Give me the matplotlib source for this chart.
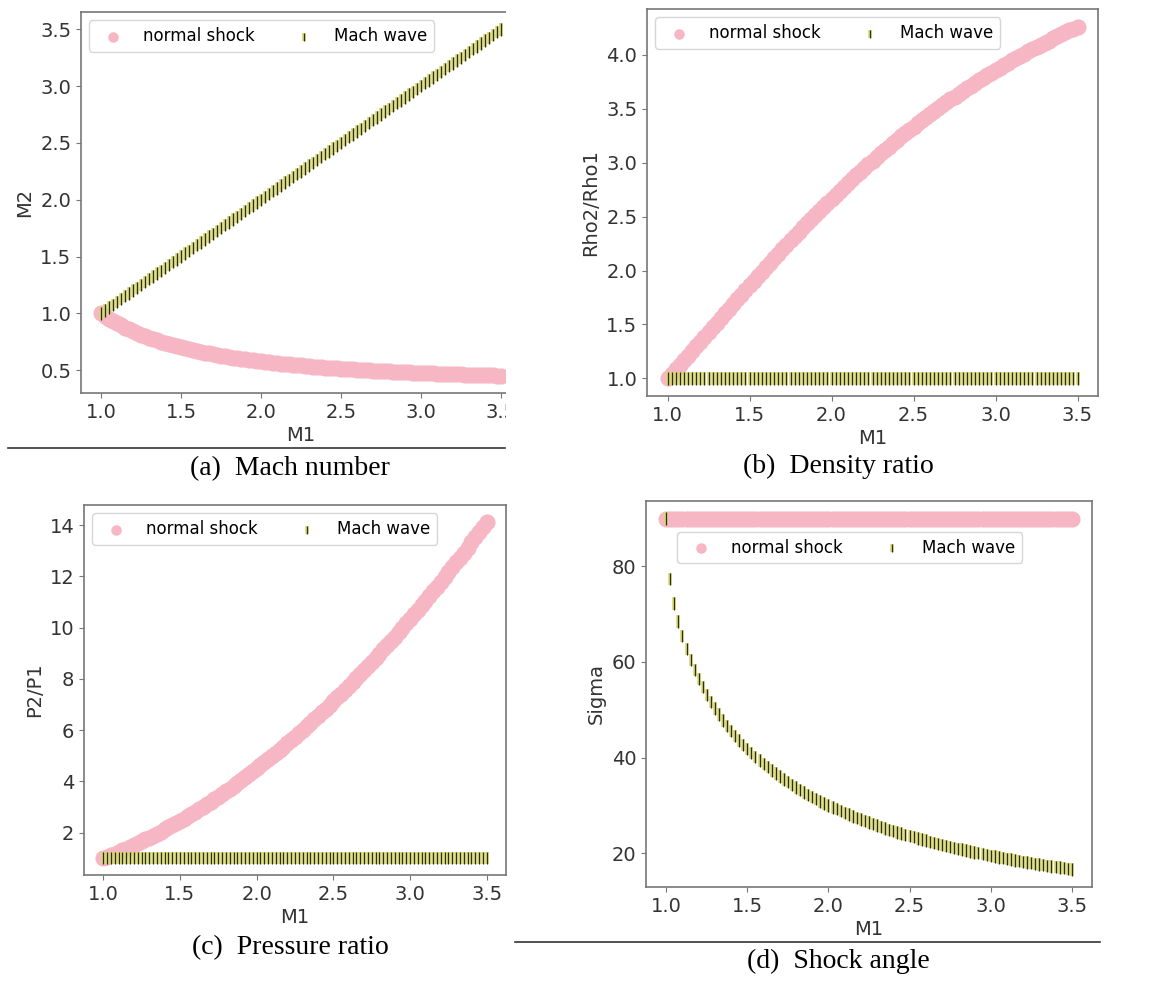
"""Normal shock vs Mach wave relations for a calorically perfect gas (gamma = 1.4)."""

import matplotlib.pyplot as plt
import matplotlib.patheffects as pe
from matplotlib.lines import Line2D
from matplotlib.patches import Rectangle

# upstream Mach number grid
m1 = [
    1.000, 1.025, 1.050, 1.075, 1.100, 1.125, 1.150, 1.175, 1.200, 1.225,
    1.250, 1.275, 1.300, 1.325, 1.350, 1.375, 1.400, 1.425, 1.450, 1.475,
    1.500, 1.525, 1.550, 1.575, 1.600, 1.625, 1.650, 1.675, 1.700, 1.725,
    1.750, 1.775, 1.800, 1.825, 1.850, 1.875, 1.900, 1.925, 1.950, 1.975,
    2.000, 2.025, 2.050, 2.075, 2.100, 2.125, 2.150, 2.175, 2.200, 2.225,
    2.250, 2.275, 2.300, 2.325, 2.350, 2.375, 2.400, 2.425, 2.450, 2.475,
    2.500, 2.525, 2.550, 2.575, 2.600, 2.625, 2.650, 2.675, 2.700, 2.725,
    2.750, 2.775, 2.800, 2.825, 2.850, 2.875, 2.900, 2.925, 2.950, 2.975,
    3.000, 3.025, 3.050, 3.075, 3.100, 3.125, 3.150, 3.175, 3.200, 3.225,
    3.250, 3.275, 3.300, 3.325, 3.350, 3.375, 3.400, 3.425, 3.450, 3.475,
    3.500,
]

# normal shock: downstream Mach number
shock_m2 = [
    1.000, 0.976, 0.953, 0.932, 0.912, 0.893, 0.875, 0.858, 0.842, 0.827,
    0.813, 0.799, 0.786, 0.774, 0.762, 0.750, 0.740, 0.729, 0.720, 0.710,
    0.701, 0.692, 0.684, 0.676, 0.668, 0.661, 0.654, 0.647, 0.641, 0.634,
    0.628, 0.622, 0.617, 0.611, 0.606, 0.601, 0.596, 0.591, 0.586, 0.582,
    0.577, 0.573, 0.569, 0.565, 0.561, 0.558, 0.554, 0.550, 0.547, 0.544,
    0.541, 0.537, 0.534, 0.531, 0.529, 0.526, 0.523, 0.520, 0.518, 0.515,
    0.513, 0.511, 0.508, 0.506, 0.504, 0.502, 0.500, 0.498, 0.496, 0.494,
    0.492, 0.490, 0.488, 0.486, 0.485, 0.483, 0.481, 0.480, 0.478, 0.477,
    0.475, 0.474, 0.472, 0.471, 0.470, 0.468, 0.467, 0.466, 0.464, 0.463,
    0.462, 0.461, 0.460, 0.458, 0.457, 0.456, 0.455, 0.454, 0.453, 0.452,
    0.451,
]

# normal shock: density ratio
shock_rho = [
    1.000, 1.042, 1.084, 1.126, 1.169, 1.212, 1.255, 1.298, 1.342, 1.385,
    1.429, 1.472, 1.516, 1.559, 1.603, 1.646, 1.690, 1.733, 1.776, 1.819,
    1.862, 1.905, 1.947, 1.990, 2.032, 2.074, 2.115, 2.157, 2.198, 2.239,
    2.279, 2.319, 2.359, 2.399, 2.438, 2.477, 2.516, 2.554, 2.592, 2.629,
    2.667, 2.704, 2.740, 2.776, 2.812, 2.847, 2.882, 2.917, 2.951, 2.985,
    3.019, 3.052, 3.085, 3.117, 3.149, 3.181, 3.212, 3.243, 3.273, 3.304,
    3.333, 3.363, 3.392, 3.421, 3.449, 3.477, 3.505, 3.532, 3.559, 3.586,
    3.612, 3.638, 3.664, 3.689, 3.714, 3.739, 3.763, 3.787, 3.811, 3.834,
    3.857, 3.880, 3.902, 3.925, 3.947, 3.968, 3.990, 4.011, 4.032, 4.052,
    4.072, 4.092, 4.112, 4.131, 4.151, 4.170, 4.188, 4.207, 4.225, 4.243,
    4.261,
]

# normal shock: pressure ratio
shock_p = [
    1.000, 1.059, 1.120, 1.182, 1.245, 1.310, 1.376, 1.444, 1.513, 1.584,
    1.656, 1.730, 1.805, 1.882, 1.960, 2.039, 2.120, 2.202, 2.286, 2.372,
    2.458, 2.547, 2.636, 2.727, 2.820, 2.914, 3.010, 3.107, 3.205, 3.305,
    3.406, 3.509, 3.613, 3.719, 3.826, 3.935, 4.045, 4.157, 4.270, 4.384,
    4.500, 4.617, 4.736, 4.857, 4.978, 5.102, 5.226, 5.352, 5.480, 5.609,
    5.740, 5.872, 6.005, 6.140, 6.276, 6.414, 6.553, 6.694, 6.836, 6.980,
    7.125, 7.272, 7.420, 7.569, 7.720, 7.872, 8.026, 8.182, 8.338, 8.497,
    8.656, 8.817, 8.980, 9.144, 9.310, 9.477, 9.645, 9.815, 9.986, 10.159,
    10.333, 10.509, 10.686, 10.865, 11.045, 11.227, 11.410, 11.594, 11.780, 11.967,
    12.156, 12.347, 12.538, 12.732, 12.926, 13.122, 13.320, 13.519, 13.720, 13.922,
    14.125,
]

shock_sigma = [90.0] * len(m1)

# Mach wave: isentropic, so M2 = M1 and ratios stay at 1
wave_m2 = list(m1)
wave_rho = [1.0] * len(m1)
wave_p = [1.0] * len(m1)

# Mach angle (deg)
wave_sigma = [
    90.00, 77.32, 72.25, 68.47, 65.38, 62.73, 60.41, 58.33, 56.44, 54.72,
    53.13, 51.66, 50.28, 49.00, 47.79, 46.66, 45.58, 44.57, 43.60, 42.69,
    41.81, 40.97, 40.18, 39.41, 38.68, 37.98, 37.31, 36.66, 36.03, 35.43,
    34.85, 34.29, 33.75, 33.23, 32.72, 32.23, 31.76, 31.30, 30.85, 30.42,
    30.00, 29.59, 29.20, 28.81, 28.44, 28.07, 27.72, 27.37, 27.04, 26.71,
    26.39, 26.08, 25.77, 25.48, 25.19, 24.90, 24.62, 24.35, 24.09, 23.83,
    23.58, 23.33, 23.09, 22.85, 22.62, 22.39, 22.17, 21.95, 21.74, 21.53,
    21.32, 21.12, 20.92, 20.73, 20.54, 20.35, 20.17, 19.99, 19.81, 19.64,
    19.47, 19.30, 19.14, 18.98, 18.82, 18.66, 18.51, 18.36, 18.21, 18.06,
    17.92, 17.78, 17.64, 17.50, 17.37, 17.24, 17.10, 16.98, 16.85, 16.72,
    16.60,
]

sigma_ticks = [20, 40, 60, 80]

W, H = 1155, 981
PINK = "#f6b6c4"
SERIF = ["Liberation Serif", "DejaVu Serif"]


def add_panel(fig, box, shock, wave, ylabel, legend_kw=None, yticks=None):
    left, top, right, bottom = box
    ax = fig.add_axes([left / W, 1 - bottom / H, (right - left) / W, (bottom - top) / H])
    ax.scatter(m1, shock, s=135, color=PINK, marker="o", linewidths=0,
               label="normal shock", zorder=2)
    ax.scatter(m1, wave, s=80, color="#2e2e0c", marker="|", linewidths=0.9,
               label="Mach wave", zorder=3,
               path_effects=[pe.withStroke(linewidth=2.6, foreground="#d8d878")])
    ax.set_xlabel("M1", fontsize=14, color="#333333", labelpad=3)
    ax.set_ylabel(ylabel, fontsize=14, color="#333333")
    if yticks is not None:
        ax.set_yticks(yticks)
    ax.tick_params(labelsize=14, colors="#333333", color="#777777")
    for spine in ax.spines.values():
        spine.set_color("#777777")
        spine.set_linewidth(1.2)
    kw = {"loc": "upper left"}
    kw.update(legend_kw or {})
    ax.legend(ncol=2, fontsize=12, markerscale=0.65, **kw)
    return ax


def main() -> None:
    fig = plt.figure(figsize=(W / 100, H / 100), dpi=100)
    fig.patch.set_facecolor("white")

    add_panel(fig, (81, 12, 521, 393), shock_m2, wave_m2, "M2")
    add_panel(fig, (647, 9, 1098, 396), shock_rho, wave_rho, "Rho2/Rho1")
    add_panel(fig, (84, 505, 506, 875), shock_p, wave_p, "P2/P1")
    add_panel(fig, (646, 501, 1092, 887), shock_sigma, wave_sigma, "Sigma",
              {"bbox_to_anchor": (0.07, 0.92), "borderaxespad": 0},
              yticks=sigma_ticks)

    def rect(x0, y0, x1, y1):
        fig.add_artist(Rectangle((x0 / W, 1 - y1 / H), (x1 - x0) / W, (y1 - y0) / H,
                                 transform=fig.transFigure, facecolor="white",
                                 edgecolor="none", zorder=5))

    def hline(x0, x1, y):
        fig.add_artist(Line2D([x0 / W, x1 / W], [1 - y / H, 1 - y / H],
                              transform=fig.transFigure, color="#333333",
                              linewidth=1.2, zorder=6))

    # the source figure had the left-hand panels cropped at the right edge
    rect(506, 0, 574, 452)
    rect(507, 480, 574, 900)
    rect(0, 449, 574, 456)
    rect(575, 943, W, 950)
    hline(8, 505, 448)
    hline(515, 1100, 942)

    captions = [
        ("(a)  Mach number", 290, 469),
        ("(b)  Density ratio", 838, 466),
        ("(c)  Pressure ratio", 290, 948),
        ("(d)  Shock angle", 838, 961),
    ]
    for text, x, y in captions:
        fig.text(x / W, 1 - y / H, text, ha="center", va="center",
                 fontsize=20, family=SERIF, color="black", zorder=7)

    fig.savefig("out.png", dpi=100)


if __name__ == "__main__":
    main()
